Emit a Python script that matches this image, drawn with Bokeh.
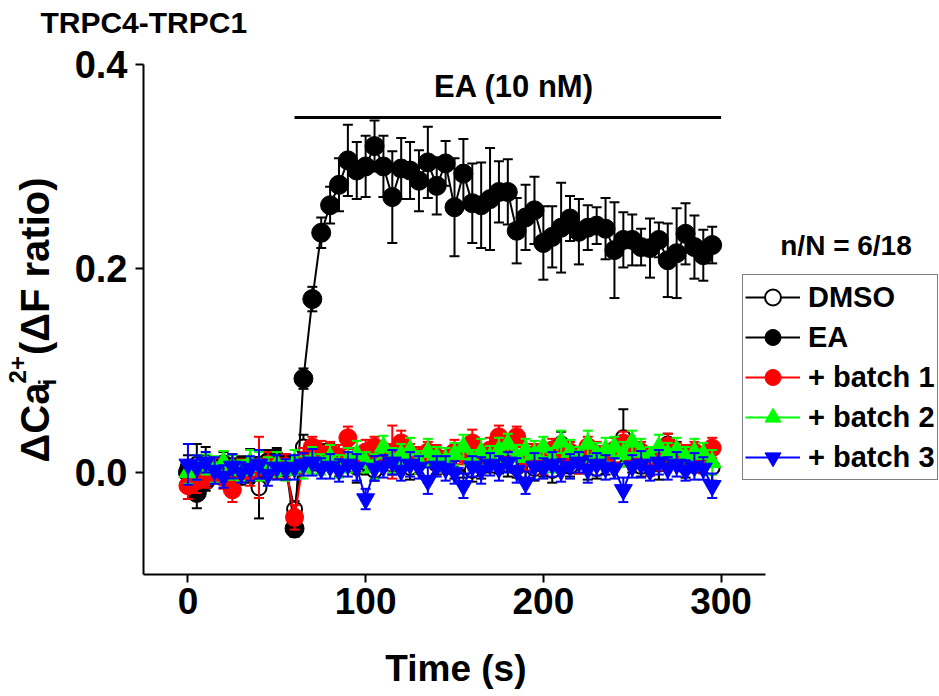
import math
from bokeh.plotting import figure
from bokeh.models import (Label, Legend, LegendItem, FixedTicker,
                          PrintfTickFormatter, ColumnDataSource)
from bokeh.embed import file_html
from bokeh.resources import INLINE

FONT = "Liberation Sans"

# ---------------- data ----------------
time = [0, 5, 10, 15, 20, 25, 30, 35, 40, 45, 50, 55,
        60, 65, 70, 75, 80, 85, 90, 95, 100, 105, 110, 115,
        120, 125, 130, 135, 140, 145, 150, 155, 160, 165, 170, 175,
        180, 185, 190, 195, 200, 205, 210, 215, 220, 225, 230, 235,
        240, 245, 250, 255, 260, 265, 270, 275, 280, 285, 290, 295]

ea = [0.000, -0.020, -0.008, 0.004, 0.008, 0.004, 0.006, 0.002, 0.005, 0.010, 0.012, 0.008,
      -0.055, 0.092, 0.170, 0.235, 0.262, 0.282, 0.306, 0.296, 0.300, 0.320, 0.300, 0.270,
      0.298, 0.296, 0.286, 0.304, 0.281, 0.303, 0.260, 0.293, 0.264, 0.262, 0.268, 0.275,
      0.275, 0.237, 0.250, 0.257, 0.225, 0.231, 0.240, 0.249, 0.236, 0.240, 0.242, 0.239,
      0.218, 0.228, 0.228, 0.221, 0.220, 0.228, 0.208, 0.215, 0.234, 0.221, 0.213, 0.223]
ea_err = [0.012, 0.015, 0.010, 0.010, 0.012, 0.010, 0.010, 0.012, 0.010, 0.012, 0.012, 0.010,
          0.008, 0.010, 0.012, 0.015, 0.018, 0.026, 0.035, 0.028, 0.030, 0.025, 0.030, 0.045,
          0.030, 0.028, 0.030, 0.035, 0.028, 0.022, 0.048, 0.034, 0.039, 0.042, 0.050, 0.030,
          0.032, 0.032, 0.032, 0.033, 0.036, 0.030, 0.044, 0.022, 0.032, 0.022, 0.018, 0.030,
          0.047, 0.027, 0.025, 0.018, 0.029, 0.017, 0.036, 0.044, 0.030, 0.031, 0.025, 0.018]

dmso = [0.005, 0.008, 0.010, 0.002, 0.000, 0.005, -0.002, 0.008, -0.015, 0.006, 0.010, 0.003,
        -0.036, 0.025, 0.012, 0.015, 0.018, 0.008, 0.012, 0.005, 0.010, 0.002, 0.015, 0.008,
        0.012, 0.005, 0.010, 0.003, 0.008, 0.012, 0.004, 0.010, 0.002, 0.006, 0.010, 0.012,
        0.008, 0.005, 0.010, 0.004, 0.007, 0.002, 0.028, 0.006, 0.012, 0.008, 0.004, 0.010,
        0.015, 0.034, 0.012, 0.006, 0.010, 0.008, 0.028, 0.018, 0.006, 0.012, 0.010, 0.005]
dmso_err = [0.012, 0.020, 0.015, 0.012, 0.010, 0.013, 0.010, 0.015, 0.030, 0.011, 0.012, 0.010,
            0.008, 0.012, 0.010, 0.013, 0.010, 0.012, 0.011, 0.015, 0.012, 0.010, 0.013, 0.010,
            0.010, 0.012, 0.011, 0.013, 0.010, 0.012, 0.010, 0.015, 0.011, 0.012, 0.010, 0.013,
            0.012, 0.010, 0.015, 0.012, 0.011, 0.012, 0.012, 0.010, 0.013, 0.015, 0.010, 0.012,
            0.012, 0.028, 0.012, 0.010, 0.013, 0.015, 0.010, 0.012, 0.011, 0.012, 0.010, 0.013]

batch1 = [-0.013, -0.008, -0.005, 0.002, -0.005, -0.017, 0.003, 0.000, 0.005, 0.008, 0.004, 0.006,
          -0.044, 0.012, 0.025, 0.018, 0.020, 0.015, 0.034, 0.012, 0.020, 0.025, 0.015, 0.020,
          0.029, 0.018, 0.012, 0.020, 0.015, 0.010, 0.020, 0.018, 0.029, 0.015, 0.022, 0.035,
          0.020, 0.035, 0.015, 0.018, 0.010, 0.022, 0.015, 0.020, 0.012, 0.025, 0.018, 0.015,
          0.022, 0.029, 0.015, 0.020, 0.010, 0.012, 0.026, 0.018, 0.015, 0.020, 0.012, 0.024]
batch1_err = [0.013, 0.012, 0.010, 0.012, 0.011, 0.012, 0.010, 0.013, 0.030, 0.012, 0.010, 0.012,
              0.012, 0.012, 0.010, 0.013, 0.010, 0.012, 0.011, 0.012, 0.012, 0.010, 0.013, 0.026,
              0.012, 0.010, 0.013, 0.010, 0.012, 0.011, 0.012, 0.010, 0.013, 0.010, 0.012, 0.011,
              0.012, 0.010, 0.013, 0.010, 0.012, 0.011, 0.012, 0.010, 0.013, 0.010, 0.012, 0.011,
              0.012, 0.011, 0.012, 0.010, 0.013, 0.010, 0.012, 0.011, 0.012, 0.010, 0.013, 0.010]

batch2 = [0.000, 0.005, 0.008, 0.003, 0.010, 0.005, 0.002, 0.010, 0.006, 0.004, 0.008, 0.002,
          0.010, 0.005, 0.012, 0.008, 0.015, 0.006, 0.012, 0.018, 0.010, 0.006, 0.025, 0.012,
          0.018, 0.022, 0.010, 0.020, 0.015, 0.012, 0.018, 0.025, 0.012, 0.020, 0.015, 0.022,
          0.028, 0.015, 0.022, 0.018, 0.025, 0.012, 0.030, 0.020, 0.015, 0.028, 0.018, 0.022,
          0.025, 0.018, 0.030, 0.020, 0.015, 0.025, 0.018, 0.022, 0.015, 0.020, 0.018, 0.010]
batch2_err = [0.011, 0.012, 0.010, 0.013, 0.011, 0.012, 0.010, 0.012, 0.014, 0.011, 0.012, 0.010,
              0.012, 0.011, 0.013, 0.010, 0.012, 0.011, 0.012, 0.013, 0.010, 0.012, 0.011, 0.012,
              0.010, 0.012, 0.011, 0.013, 0.010, 0.012, 0.011, 0.012, 0.010, 0.013, 0.011, 0.012,
              0.010, 0.012, 0.011, 0.013, 0.010, 0.012, 0.011, 0.012, 0.010, 0.013, 0.011, 0.012,
              0.010, 0.012, 0.011, 0.013, 0.010, 0.012, 0.011, 0.012, 0.010, 0.013, 0.011, 0.012]

batch3 = [0.008, 0.005, 0.010, 0.002, -0.004, 0.006, 0.000, 0.004, 0.008, -0.002, 0.005, 0.003,
          0.005, 0.008, 0.010, 0.004, 0.006, 0.002, 0.008, 0.005, -0.026, 0.004, 0.006, 0.010,
          0.002, 0.008, 0.005, -0.008, 0.006, 0.004, 0.000, -0.013, 0.006, 0.002, 0.008, 0.004,
          0.010, 0.002, -0.010, 0.006, 0.004, 0.008, 0.002, 0.006, 0.010, 0.003, 0.008, 0.005,
          0.004, -0.017, 0.006, 0.008, 0.002, 0.010, 0.004, 0.008, 0.002, 0.006, 0.004, -0.013]
batch3_err = [0.020, 0.012, 0.010, 0.013, 0.011, 0.012, 0.010, 0.012, 0.014, 0.011, 0.012, 0.010,
              0.012, 0.011, 0.013, 0.010, 0.012, 0.011, 0.012, 0.013, 0.010, 0.012, 0.011, 0.012,
              0.010, 0.012, 0.011, 0.013, 0.010, 0.012, 0.011, 0.012, 0.010, 0.013, 0.011, 0.012,
              0.010, 0.012, 0.011, 0.013, 0.010, 0.012, 0.011, 0.012, 0.010, 0.013, 0.011, 0.012,
              0.010, 0.012, 0.011, 0.013, 0.010, 0.012, 0.011, 0.012, 0.010, 0.013, 0.011, 0.012]

series_names = ["DMSO", "EA", "+ batch 1", "+ batch 2", "+ batch 3"]
x_ticks = [0, 100, 200, 300]
y_ticks = [0.0, 0.2, 0.4]
x_axis_bounds = (-25, 325)
y_axis_bounds = (-0.1, 0.4)
ea_window = (60, 300)
ea_bar_level = 0.348

# ---------------- figure ----------------
# The frame fills the canvas; the axes are drawn at fixed locations with bounds,
# so titles, legend and notes outside the axis box are not clipped.
p = figure(width=939, height=696, x_range=(-105.47, 422.91), y_range=(-0.2196, 0.4627),
           output_backend="svg", toolbar_location=None, min_border=0)
p.outline_line_color = None
p.xgrid.visible = False
p.ygrid.visible = False
p.background_fill_color = "white"
p.border_fill_color = "white"

for ax in (p.xaxis[0], p.yaxis[0]):
    ax.axis_line_width = 2
    ax.axis_line_color = "black"
    ax.major_tick_line_width = 2
    ax.major_tick_line_color = "black"
    ax.major_tick_out = 8
    ax.major_tick_in = 0
    ax.minor_tick_line_color = None
    ax.major_label_text_font = FONT
    ax.major_label_text_font_style = "bold"
    ax.major_label_text_color = "black"

p.xaxis.fixed_location = y_axis_bounds[0]
p.xaxis.bounds = x_axis_bounds
p.yaxis.fixed_location = x_axis_bounds[0]
p.yaxis.bounds = y_axis_bounds
p.xaxis.ticker = FixedTicker(ticks=x_ticks)
p.yaxis.ticker = FixedTicker(ticks=y_ticks)
p.yaxis.formatter = PrintfTickFormatter(format="%.1f")
p.xaxis.major_label_text_font_size = "37px"
p.yaxis.major_label_text_font_size = "38px"
p.xaxis.major_label_standoff = 6
p.yaxis.major_label_standoff = 8

items = []


def add_series(y, err, color, marker, fill, size, name, lw=2):
    lo = [a - b for a, b in zip(y, err)]
    hi = [a + b for a, b in zip(y, err)]
    src = ColumnDataSource(dict(t=time, y=y, lo=lo, hi=hi))
    p.segment("t", "lo", "t", "hi", source=src, line_color=color, line_width=2)
    p.scatter("t", "hi", source=src, marker="dash", size=10, line_color=color, line_width=2)
    p.scatter("t", "lo", source=src, marker="dash", size=10, line_color=color, line_width=2)
    ln = p.line("t", "y", source=src, line_color=color, line_width=2)
    mk = p.scatter("t", "y", source=src, marker=marker, size=size,
                   fill_color=fill, line_color=color, line_width=lw)
    items.append(LegendItem(label=name, renderers=[ln, mk]))


add_series(dmso, dmso_err, "black", "circle", "white", 15, series_names[0], lw=2)
add_series(ea, ea_err, "black", "circle", "black", 19, series_names[1], lw=1)
add_series(batch1, batch1_err, "#FF0000", "circle", "#FF0000", 18, series_names[2], lw=1)
add_series(batch2, batch2_err, "#00FF00", "triangle", "#00FF00", 18, series_names[3], lw=1)
add_series(batch3, batch3_err, "#0000FF", "inverted_triangle", "#0000FF", 18, series_names[4], lw=1)

# EA application bar
p.segment(x0=[ea_window[0]], y0=[ea_bar_level], x1=[ea_window[1]], y1=[ea_bar_level],
          line_color="black", line_width=3)

legend = Legend(items=items, location=(742, 216), orientation="vertical",
                glyph_width=55, glyph_height=40, spacing=0, padding=2, margin=0,
                label_standoff=8, label_text_font=FONT, label_text_font_style="bold",
                label_text_font_size="29px", label_text_color="black",
                border_line_color="black", border_line_width=1.5,
                background_fill_color="white", background_fill_alpha=1)
p.add_layout(legend)


def lbl(x, y, text, size, align="left", baseline="alphabetic", angle=0.0):
    p.add_layout(Label(x=x, y=y, text=text, text_font=FONT, text_font_style="bold",
                       text_font_size=size, text_color="black", text_align=align,
                       text_baseline=baseline, angle=angle))


lbl(-83, 0.4412, "TRPC4-TRPC1", "30px")
lbl(183.5, 0.3785, "EA (10 nM)", "31px", align="center")
lbl(370.3, 0.2225, "n/N = 6/18", "28px", align="center")
lbl(150.8, -0.1921, "Time (s)", "37px", align="center")

# rotated y-axis title: ΔCa(2+ superscript, i subscript) (ΔF ratio)
rot = math.pi / 2
lbl(-86.3, 0.0098, "\u0394Ca", "40px", angle=rot)
lbl(-95.9, 0.0873, "2+", "24px", angle=rot)
lbl(-79.0, 0.0853, "i", "24px", angle=rot)
lbl(-86.3, 0.2892, "(\u0394F ratio)", "40px", align="right", angle=rot)

open("out.html", "w").write(file_html(p, INLINE))
